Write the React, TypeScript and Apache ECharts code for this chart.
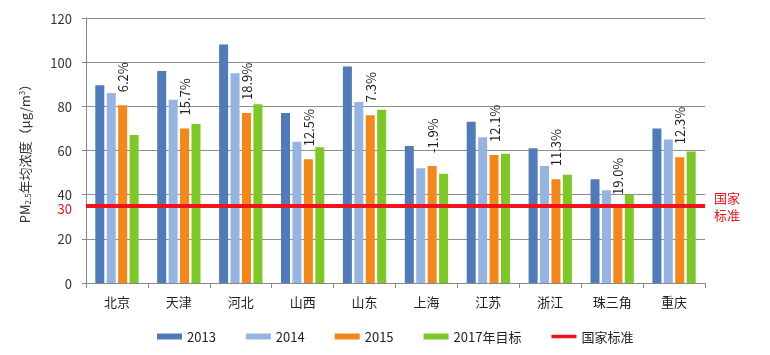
import React, { useEffect, useRef } from "react";
import * as echarts from "echarts";

const categories = ["北京", "天津", "河北", "山西", "山东", "上海", "江苏", "浙江", "珠三角", "重庆"];
const values2013 = [89.5, 96, 108, 77, 98, 62, 73, 61, 47, 70];
const values2014 = [86, 83, 95, 64, 82, 52, 66, 53, 42, 65];
const values2015 = [80.5, 70, 77, 56, 76, 53, 58, 47, 34, 57];
const values2017 = [67, 72, 81, 61.5, 78.5, 49.5, 58.5, 49, 40, 59.5];
const changeLabels = ["6.2%", "15.7%", "18.9%", "12.5%", "7.3%", "-1.9%", "12.1%", "11.3%", "19.0%", "12.3%"];
const standardValue = 35;
const standardTickLabel = "30";
const standardNameLines = ["国家", "标准"];
const yTicks = { min: 0, max: 120, interval: 20 };

const FONT = "'Noto Sans CJK SC', 'Noto Sans', sans-serif";
const RED = "#F0121C";

export default function App() {
  const ref = useRef<HTMLDivElement>(null);
  useEffect(() => {
    if (!ref.current) return;
    const chart = echarts.init(ref.current, undefined, { renderer: "svg" });
    const barBase = { type: "bar", barWidth: 9, barGap: "27%" };
    const endLabel = (text: string, dy: number) => ({
      yAxis: standardValue,
      label: {
        show: true,
        position: "end",
        distance: 9,
        formatter: text,
        fontSize: 13,
        lineHeight: 14,
        offset: [0, dy],
        color: RED,
        fontFamily: FONT,
      },
    });
    chart.setOption({
      animation: false,
      textStyle: { fontFamily: FONT },
      grid: { left: 86, right: 65, top: 18, bottom: 72 },
      legend: {
        left: 152,
        top: 325,
        itemWidth: 25,
        itemHeight: 6,
        itemGap: 30,
        textStyle: { fontSize: 13, color: "#222", fontFamily: FONT },
        data: [
          { name: "2013", icon: "rect" },
          { name: "2014", icon: "rect" },
          { name: "2015", icon: "rect" },
          { name: "2017年目标", icon: "rect" },
          { name: "国家标准", icon: "path://M0,0H0.5V0.02H0Z M0,1.2H25V4.8H0Z M0,5.98H0.5V6H0Z" },
        ],
      },
      xAxis: {
        type: "category",
        data: categories,
        axisLine: { lineStyle: { color: "#888", width: 1 } },
        axisTick: { show: true, length: 5, lineStyle: { color: "#888" } },
        axisLabel: { fontSize: 13, color: "#222", margin: 12, fontFamily: FONT },
      },
      yAxis: {
        type: "value",
        min: yTicks.min,
        max: yTicks.max,
        interval: yTicks.interval,
        name: "PM{sub|2.5}年均浓度（μg/m{sup|3}）",
        nameLocation: "middle",
        nameGap: 55,
        nameTextStyle: {
          fontSize: 13,
          color: "#333",
          fontFamily: FONT,
          rich: {
            sub: { fontSize: 8, verticalAlign: "bottom", padding: [6, 0, 0, 0], color: "#333" },
            sup: { fontSize: 8, verticalAlign: "top", padding: [0, 0, 6, 0], color: "#333" },
          },
        },
        axisLine: { show: true, lineStyle: { color: "#888", width: 1 } },
        axisTick: { show: true, length: 4, lineStyle: { color: "#888" } },
        axisLabel: { fontSize: 13, color: "#333", margin: 14, fontFamily: FONT },
        splitLine: { lineStyle: { color: "#8f8f8f", width: 1 } },
      },
      series: [
        { ...barBase, name: "2013", data: values2013, itemStyle: { color: "#4F7BBA" } },
        { ...barBase, name: "2014", data: values2014, itemStyle: { color: "#96B4E2" } },
        {
          ...barBase,
          name: "2015",
          data: values2015,
          itemStyle: { color: "#F4861A" },
          label: {
            show: true,
            position: "top",
            rotate: 90,
            align: "left",
            verticalAlign: "middle",
            distance: 13,
            fontSize: 13,
            color: "#222",
            fontFamily: FONT,
            formatter: (p: any) => changeLabels[p.dataIndex],
          },
        },
        { ...barBase, name: "2017年目标", data: values2017, itemStyle: { color: "#7CC824" } },
        {
          type: "line",
          name: "国家标准",
          data: [],
          symbol: "none",
          itemStyle: { color: RED },
          lineStyle: { color: RED, width: 3.5 },
          markLine: {
            silent: true,
            symbol: "none",
            lineStyle: { color: RED, width: 3.5, type: "solid" },
            data: [
              {
                yAxis: standardValue,
                label: {
                  show: true,
                  position: "start",
                  distance: 14,
                  formatter: standardTickLabel,
                  fontSize: 13,
                  lineHeight: 13,
                  offset: [0, 3],
                  color: RED,
                  fontFamily: FONT,
                },
              },
              endLabel(standardNameLines[0], -8),
              endLabel(standardNameLines[1], 9),
            ],
          },
        },
      ],
    });
    return () => chart.dispose();
  }, []);
  return <div ref={ref} style={{ position: "fixed", left: 0, top: 0, width: 770, height: 355 }} />;
}
